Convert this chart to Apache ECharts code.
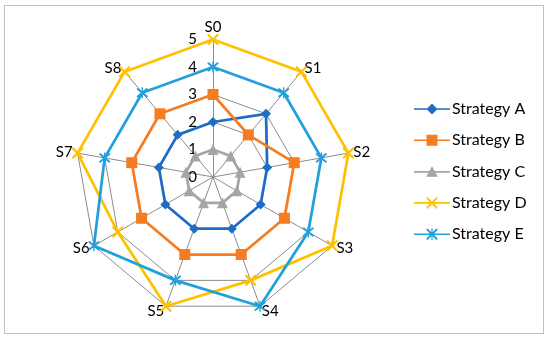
<!DOCTYPE html>
<html><head><meta charset="utf-8">
<script src="https://cdn.jsdelivr.net/npm/echarts@6/dist/echarts.min.js"></script>
<style>html,body{margin:0;padding:0;background:#fff}#c{width:550px;height:339px;position:relative}
#frame{position:absolute;left:4px;top:5px;width:540px;height:329px;border:1px solid #bfbfbf;box-sizing:border-box;pointer-events:none}</style>
</head><body><div id="c"></div><div id="frame"></div>
<script>
const categories = ['S0','S1','S2','S3','S4','S5','S6','S7','S8'];
const seriesNames = ['Strategy A','Strategy B','Strategy C','Strategy D','Strategy E'];
const strategyA = [2,3,2,2,2,2,2,2,2];
const strategyB = [3,2,3,3,3,3,3,3,3];
const strategyC = [1,1,1,1,1,1,1,1,1];
const strategyD = [5,5,5,5,4,5,4,5,5];
const strategyE = [4,4,4,4,5,4,5,4,4];
const tickMax = 5;

// ECharts radar runs counter-clockwise; reorder so categories go clockwise
const order = categories.map((_, k) => (categories.length - k) % categories.length);

const colors = ['#1f6cc6','#f67c21','#a5a5a5','#ffc000','#21a0dc'];
const xPath = 'path://M0,0 L1.4,0 L5,3.6 L8.6,0 L10,0 L10,1.4 L6.4,5 L10,8.6 L10,10 L8.6,10 L5,6.4 L1.4,10 L0,10 L0,8.6 L3.6,5 L0,1.4 Z';
const starPath = 'path://M0,0 L1.4,0 L5,3.6 L8.6,0 L10,0 L10,1.4 L6.4,5 L10,8.6 L10,10 L8.6,10 L5,6.4 L1.4,10 L0,10 L0,8.6 L3.6,5 L0,1.4 Z M4.4,-1 L5.6,-1 L5.6,11 L4.4,11 Z';
const symbols = ['diamond','rect','triangle',xPath,starPath];
const symbolSizes = [10,11,11,11,11];
const dataSets = [strategyA,strategyB,strategyC,strategyD,strategyE];

const legendIcons = [
  'path://M0,6.2 L36,6.2 L36,7.8 L0,7.8 Z M18,1.5 L23.5,7 L18,12.5 L12.5,7 Z',
  'path://M0,6.2 L36,6.2 L36,7.8 L0,7.8 Z M12.5,1.5 L23.5,1.5 L23.5,12.5 L12.5,12.5 Z',
  'path://M0,6.2 L36,6.2 L36,7.8 L0,7.8 Z M18,1.5 L24,12 L12,12 Z',
  'path://M0,6.2 L36,6.2 L36,7.8 L0,7.8 Z M12.5,1.5 L13.9,1.5 L18,5.6 L22.1,1.5 L23.5,1.5 L23.5,2.9 L19.4,7 L23.5,11.1 L23.5,12.5 L22.1,12.5 L18,8.4 L13.9,12.5 L12.5,12.5 L12.5,11.1 L16.6,7 L12.5,2.9 Z',
  'path://M0,6.2 L36,6.2 L36,7.8 L0,7.8 Z M12.5,1.5 L13.9,1.5 L18,5.6 L22.1,1.5 L23.5,1.5 L23.5,2.9 L19.4,7 L23.5,11.1 L23.5,12.5 L22.1,12.5 L18,8.4 L13.9,12.5 L12.5,12.5 L12.5,11.1 L16.6,7 L12.5,2.9 Z M17.4,1 L18.6,1 L18.6,13 L17.4,13 Z'
];

const chart = echarts.init(document.getElementById('c'), null, {renderer:'canvas'});
const FONT = 'Lato';
chart.setOption({
  animation: false,
  textStyle: {fontFamily: FONT},
  legend: {
    orient: 'vertical', left: 409, top: 96, itemWidth: 36, itemHeight: 14, itemGap: 15.3,
    textStyle: {fontSize: 16, color: '#000', fontFamily: FONT, padding:[0,0,0,-3]},
    data: seriesNames.map((n,i)=>({name:n, icon: legendIcons[i]}))
  },
  radar: {
    center: [213, 177], radius: 137.5, startAngle: 90, shape: 'polygon', splitNumber: 5,
    axisName: {color:'#000', fontSize: 15, fontFamily: FONT},
    nameGap: 5,
    splitLine: {lineStyle: {color:'#8c8c8c', width: 1}},
    splitArea: {show:false},
    axisLine: {lineStyle: {color:'#8c8c8c', width: 1}},
    axisLabel: {show:false},
    indicator: order.map((ci,k)=> k===0
      ? {name:categories[ci], min:0, max:tickMax, axisLabel:{show:true, color:'#000', fontSize:15, fontFamily:FONT, margin: 16}}
      : {name:categories[ci], min:0, max:tickMax})
  },
  series: [{
    type: 'radar',
    data: dataSets.map((d,i)=>({
      name: seriesNames[i], value: order.map(ci => d[ci]), symbol: symbols[i], symbolSize: symbolSizes[i],
      lineStyle: {color: colors[i], width: 2.75},
      itemStyle: {color: colors[i], borderWidth: 0}
    }))
  }]
});
</script></body></html>
